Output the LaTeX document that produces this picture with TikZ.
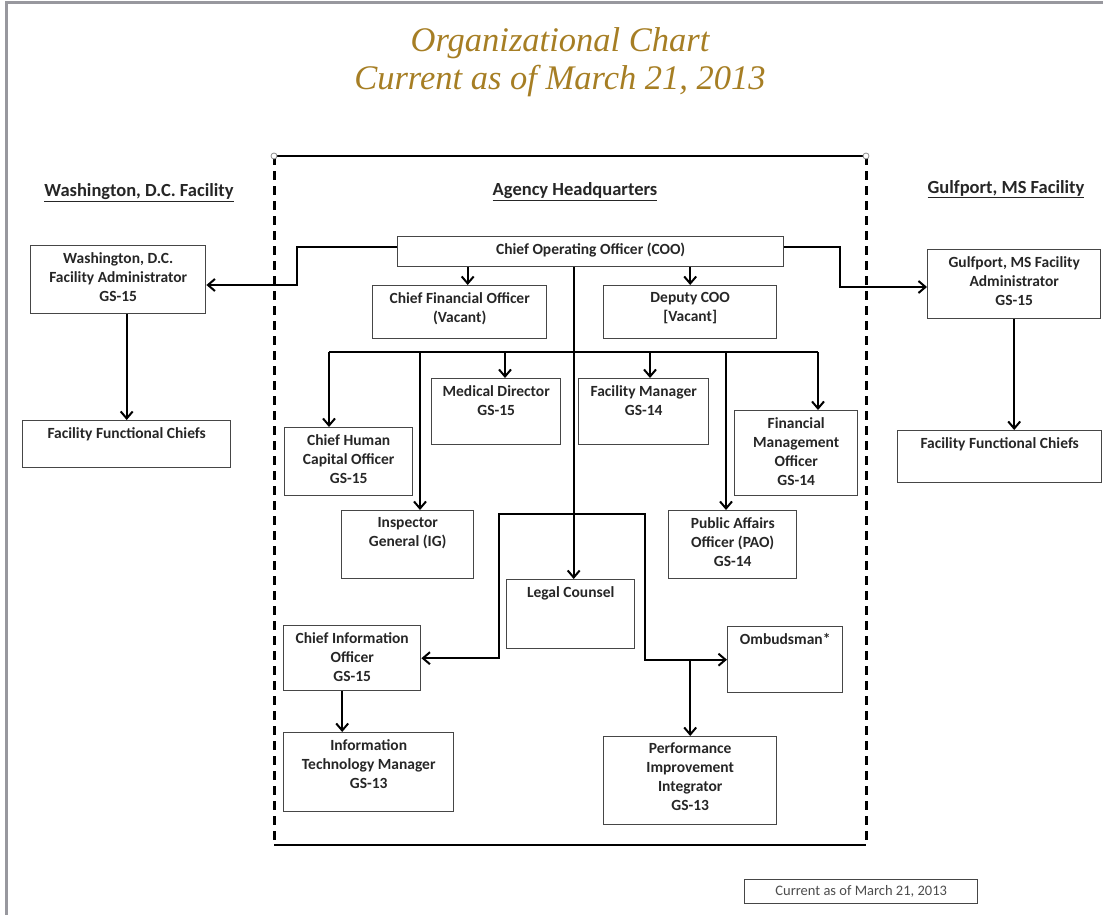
\documentclass[tikz,border=0pt]{standalone}
\usepackage{fontspec}
\setmainfont{Carlito}
\newfontfamily\titlefont{Liberation Serif}
\usetikzlibrary{arrows.meta}
\definecolor{titlegold}{RGB}{166,126,36}
\definecolor{framegray}{RGB}{152,152,158}
\definecolor{boxline}{RGB}{70,70,70}
\tikzset{
	box/.style={draw=boxline, line width=1.4pt, anchor=north west, inner sep=0pt},
	boxtext/.style={anchor=north, align=center, inner xsep=3pt, inner ysep=7pt, text=black!85,
		font=\fontsize{15.5}{19}\selectfont\bfseries},
	link/.style={line width=2.4pt},
	arr/.style={link, -{Straight Barb[length=7pt, width=12pt, line width=2pt]}},
	head/.style={text=black!85, font=\fontsize{18.5}{21}\selectfont\bfseries},
	hqline/.style={line width=2.6pt},
}
\newcommand{\orgbox}[6]{%
	\node[box, minimum width=#4pt, minimum height=#5pt] (#1) at (#2, #3) {};
	\node[boxtext] (#1t) at (#1.north) {#6};
}

\begin{document}
\begin{tikzpicture}[x=1pt, y=-1pt]
		%%%%% START %%%%%
		\useasboundingbox (0, 0) rectangle (1103, 915);
		\draw[framegray, line width=3pt] (1103, 3) -- (6, 3) -- (6, 915);
		
		\node[anchor=base, text=titlegold, font=\titlefont\itshape\fontsize{34.5}{38}\selectfont] (title1) at (560, 52) {Organizational Chart};
		\node[anchor=base, text=titlegold, font=\titlefont\itshape\fontsize{34.5}{38}\selectfont] (title2) at (560, 90) {Current as of March 21, 2013};
		
		% headquarters frame
		\coordinate (hqNW) at (274, 156);
		\coordinate (hqNE) at (866, 156);
		\coordinate (hqSW) at (274, 845);
		\coordinate (hqSE) at (866, 845);
		\draw[hqline] (hqNW) -- (hqNE);
		\draw[hqline] (hqSW) -- (hqSE);
		\draw[line width=3pt, dash pattern=on 9pt off 6pt] (hqNW) -- (hqSW);
		\draw[line width=3pt, dash pattern=on 9pt off 6pt] (hqNE) -- (hqSE);
		\draw[draw=black!45, fill=white, line width=0.8pt] (hqNW) circle (3pt);
		\draw[draw=black!45, fill=white, line width=0.8pt] (hqNE) circle (3pt);
		
		\node[head] (wdchead) at (139, 193) {\underline{Washington,\ D.C. Facility}};
		\node[head] (hqhead) at (575, 192) {\underline{Agency Headquarters}};
		\node[head] (gphead) at (1006, 189) {\underline{Gulfport, MS Facility}};
		
		% boxes
		\orgbox{coo}{397}{236}{386}{30}{Chief Operating Officer (COO)}
		\orgbox{cfo}{372}{285}{174}{53}{Chief Financial Officer\\(Vacant)}
		\orgbox{dep}{603}{285}{173}{53}{Deputy COO\\{[Vacant]}}
		
		\orgbox{wdcadm}{30}{245}{175}{68}{Washington, D.C.\\Facility Administrator\\GS-15}
		\orgbox{wdcffc}{22}{420}{208}{47}{Facility Functional Chiefs}
		\orgbox{gpadm}{927}{249}{173}{69}{Gulfport, MS Facility\\Administrator\\GS-15}
		\orgbox{gpffc}{897}{430}{204}{52}{Facility Functional Chiefs}
		
		\orgbox{chco}{284}{427}{128}{68}{Chief Human\\Capital Officer\\GS-15}
		\orgbox{md}{431}{378}{129}{66}{Medical Director\\GS-15}
		\orgbox{fm}{578}{378}{130}{66}{Facility Manager\\GS-14}
		\orgbox{fmo}{734}{410}{123}{85}{Financial\\Management\\Officer\\GS-14}
		\orgbox{ig}{341}{510}{132}{68}{Inspector\\General (IG)}
		\orgbox{pao}{668}{510}{128}{68}{Public Affairs\\Officer (PAO)\\GS-14}
		\orgbox{legal}{506}{579}{128}{69}{Legal Counsel}
		\orgbox{cio}{283}{625}{137}{65}{Chief Information\\Officer\\GS-15}
		\orgbox{omb}{727}{626}{115}{66}{Ombudsman*}
		\orgbox{itm}{283}{732}{170}{79}{Information\\Technology Manager\\GS-13}
		\orgbox{pii}{603}{736}{173}{88}{Performance\\Improvement\\Integrator\\GS-13}
		
		\node[box, minimum width=233pt, minimum height=24pt] (stamp) at (744, 879) {};
		\node[text=black!70, font=\fontsize{14.5}{16}\selectfont] (stampt) at (stamp.center) {Current as of March 21, 2013};
		
		% links to the facilities
		\coordinate (jogL) at (297, 285);
		\coordinate (jogR) at (840, 287);
		\draw[arr] ([yshift=5pt]coo.west) -| (jogL) -- (jogL -| wdcadm.east);
		\draw[arr] ([yshift=5pt]coo.east) -| (jogR) -- (jogR -| gpadm.west);
		\draw[arr] (wdcffc.north |- wdcadm.south) -- (wdcffc.north);
		\draw[arr] (gpadm.south) -- (gpadm.south |- gpffc.north);
		
		% coo to its deputies
		\draw[arr] ([xshift=8pt]cfo.north |- coo.south) -- ([xshift=8pt]cfo.north);
		\draw[arr] (dep.north |- coo.south) -- (dep.north);
		\draw[arr] ([xshift=3pt]legal.north |- coo.south) -- ([xshift=3pt]legal.north);
		
		% staff bus
		\coordinate (tapCH) at (329, 352);
		\coordinate (tapIG) at (420, 352);
		\coordinate (tapMD) at (505, 352);
		\coordinate (tapFM) at (650, 352);
		\coordinate (tapPA) at (726, 352);
		\coordinate (tapFO) at (818, 352);
		\draw[link] (tapCH) -- (tapFO);
		\draw[arr] (tapCH) -- (tapCH |- chco.north);
		\draw[arr] (tapIG) -- (tapIG |- ig.north);
		\draw[arr] (tapMD) -- (tapMD |- md.north);
		\draw[arr] (tapFM) -- (tapFM |- fm.north);
		\draw[arr] (tapPA) -- (tapPA |- pao.north);
		\draw[arr] (tapFO) -- (tapFO |- fmo.north);
		
		% lower bracket
		\coordinate (brL) at (499, 514);
		\coordinate (brR) at (645, 514);
		\draw[arr] (brR) -- (brL) |- (cio.east);
		\draw[arr] (brL) -- (brR) |- (omb.west);
		\draw[arr] (brR |- omb.west) -| (pii.north);
		\draw[arr] ([xshift=-10pt]cio.south) -- ([xshift=-10pt]cio.south |- itm.north);
		%%%%% END %%%%%
\end{tikzpicture}
\end{document}
